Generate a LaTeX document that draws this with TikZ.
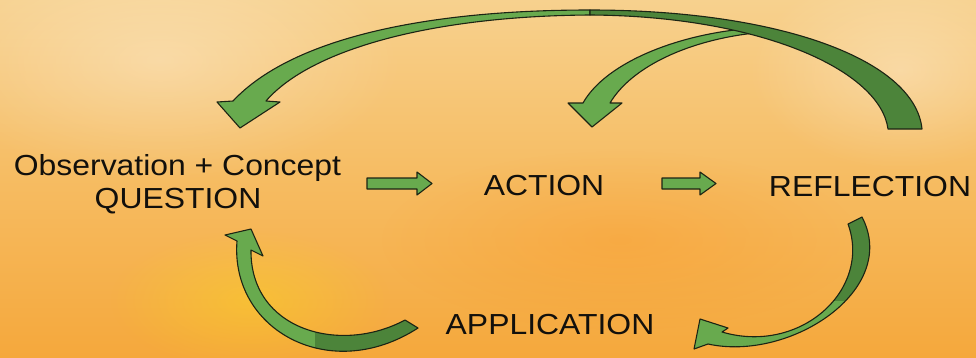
\documentclass[tikz,border=0pt]{standalone}
\usepackage{fontspec}
\setmainfont{Liberation Sans}[FakeStretch=1.1]
\usetikzlibrary{fadings}
\tikzfading[name=softblob, inner color=transparent!0, outer color=transparent!100]
\definecolor{bgTop}{RGB}{247,209,142}
\definecolor{bgMid}{RGB}{246,188,98}
\definecolor{bgBot}{RGB}{245,168,60}
\definecolor{arrLight}{RGB}{104,170,78}
\definecolor{arrDark}{RGB}{76,132,58}
\definecolor{arrLine}{RGB}{28,36,20}
\definecolor{txt}{RGB}{18,16,12}
\begin{document}
\begin{tikzpicture}[x=1pt,y=-1pt,
  lbl/.style={font=\fontsize{29}{33}\selectfont, text=txt, inner sep=0pt, anchor=base},
  arrfill/.style={fill=arrLight},
  arrdark/.style={fill=arrDark},
  arrline/.style={draw=arrLine, line width=1.1pt, line join=round},
  blob/.style={path fading=softblob}]
\useasboundingbox (0,0) rectangle (976,357);
% background
\shade[top color=bgTop, bottom color=bgBot, middle color=bgMid] (0,0) rectangle (976,357);
\fill[white, opacity=0.3, blob] (160,60) ellipse (240 and 120);
\fill[yellow, opacity=0.25, blob] (250,300) ellipse (140 and 70);
\fill[white, opacity=0.3, blob] (900,70) ellipse (150 and 100);
\fill[orange, opacity=0.2, blob] (620,240) ellipse (240 and 90);

% text nodes
\node[lbl] (q1) at (177.5,175) {Observation + Concept};
\node[lbl] (q2) at (178,208) {QUESTION};
\node[lbl] (act) at (544,195) {ACTION};
\node[lbl] (refl) at (870,196) {REFLECTION};
\node[lbl] (app) at (550,334) {APPLICATION};

% small top arrow (Reflection -> Action)
\path[arrfill, arrline] (755,28) .. controls (680,33) and (606,62) .. (583,103)
  -- (568,103) -- (592,127) -- (622,103) -- (610,103)
  .. controls (632,66) and (690,40) .. (755,33) -- cycle;

% big top arrow (Reflection -> Question)
\path[arrfill, arrline] (590,10) .. controls (420,10) and (290,40) .. (233,101)
  -- (217,102) -- (240,128) -- (280,102) -- (266,101)
  .. controls (310,50) and (430,16) .. (590,15) -- cycle;
\path[arrdark, arrline] (590,10) .. controls (780,10) and (915,60) .. (922,129)
  -- (888,129) .. controls (880,70) and (760,16) .. (590,15) -- cycle;

% bottom-left arrow (Application -> Question)
\def\blpath{(251,229) -- (263,256) -- (251,250)
  .. controls (250,330) and (340,355) .. (405,320) -- (418,328)
  .. controls (330,385) and (230,330) .. (237,241) -- (225,235) -- cycle}
\fill[arrLight] \blpath;
\begin{scope}
  \clip (315,200) rectangle (450,357);
  \fill[arrDark] \blpath;
\end{scope}
\draw[arrline] \blpath;

% bottom-right arrow (Reflection -> Application)
\def\brpath{(848,224) -- (862,217)
  .. controls (900,290) and (790,362) .. (708,344) -- (694,349) -- (700,319)
  -- (728,328) -- (722,332) .. controls (800,355) and (872,290) .. (848,224) -- cycle}
\fill[arrLight] \brpath;
\begin{scope}
  \clip (800,200) rectangle (900,300);
  \fill[arrDark] \brpath;
\end{scope}
\draw[arrline] \brpath;

% straight block arrows
\path[arrfill, arrline] (367,178) -- (417,178) -- (417,172) -- (432,183.5)
  -- (417,195) -- (417,189) -- (367,189) -- cycle;
\path[arrfill, arrline] (662,178) -- (700,178) -- (700,172) -- (716,183.5)
  -- (700,195) -- (700,189) -- (662,189) -- cycle;
\end{tikzpicture}
\end{document}
